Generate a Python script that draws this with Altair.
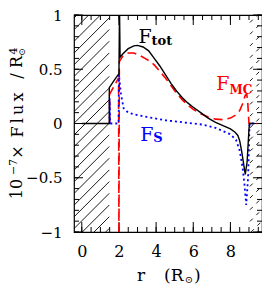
import altair as alt
import pandas as pd

# ---------------- data ----------------
tot_r = [0.0, 1.48, 1.48, 1.75, 2.0, 2.03, 2.06, 2.2, 2.5, 2.8, 3.0, 3.3, 3.6, 3.9, 4.2, 4.5, 4.8,
         5.1, 5.4, 5.7, 6.0, 6.4, 6.8, 7.2, 7.6, 8.0, 8.25, 8.4, 8.5, 8.6, 8.7, 8.8, 8.9, 9.0, 9.03, 9.3]
tot_v = [0.0, 0.0, 0.33, 0.40, 0.46, 1.05, 0.61, 0.64, 0.69, 0.715, 0.72, 0.705, 0.67, 0.60, 0.53, 0.45, 0.37,
         0.30, 0.24, 0.19, 0.15, 0.10, 0.05, 0.01, -0.02, -0.05, -0.08, -0.11, -0.16, -0.25, -0.36, -0.47, -0.35, -0.05, 0.0, 0.0]

mc_r = [1.5, 1.5, 1.98, 2.0, 2.02, 2.2, 2.5, 2.8, 3.1, 3.4, 3.7, 3.9, 4.2, 4.5, 4.8, 5.1, 5.4, 5.7,
        6.0, 6.4, 6.8, 7.2, 7.6, 8.0, 8.3, 8.5, 8.65, 8.8, 8.88, 8.93, 8.98, 9.0, 9.45]
mc_v = [0.0, 0.27, 0.42, -1.1, 0.57, 0.62, 0.65, 0.65, 0.63, 0.60, 0.57, 0.54, 0.48, 0.42, 0.35, 0.28, 0.22, 0.17,
        0.13, 0.09, 0.06, 0.04, 0.035, 0.05, 0.08, 0.12, 0.18, 0.26, 0.27, 0.2, 0.05, 0.0, 0.0]

s_r = [1.5, 1.5, 1.53, 1.98, 2.0, 2.1, 2.25, 2.5, 2.8, 3.5, 4.5, 5.5, 6.5, 7.2, 7.6, 8.0, 8.3, 8.5,
       8.65, 8.75, 8.85, 8.95, 9.0, 9.03, 9.3]
s_v = [0.0, 0.23, 0.0, 0.0, 0.45, 0.28, 0.14, 0.10, 0.085, 0.06, 0.03, 0.01, -0.01, -0.04, -0.07, -0.10, -0.15, -0.25,
       -0.40, -0.55, -0.75, -0.5, -0.2, 0.0, 0.0]

x_major = [0, 2, 4, 6, 8]
x_minor = [0.5 * i for i in range(20)]
y_major = [-1, -0.5, 0, 0.5, 1]
y_minor = [round(-1 + 0.1 * i, 1) for i in range(21)]

left_zone = [-0.42, 1.48]
right_zone = [9.05, 9.7]

XD = [-0.42, 9.7]
YD = [-1.0, 1.0]
W, H = 188, 217
FONT = "DejaVu Serif"

xs = alt.Scale(domain=XD, nice=False, zero=False)
ys = alt.Scale(domain=YD, nice=False, zero=False)
xaxis = alt.Axis(values=x_major, format="d", title=None, ticks=False, tickSize=0, domain=False, grid=False,
                 labelFont=FONT, labelFontSize=16, labelPadding=11, labelColor="black")
yaxis = alt.Axis(values=y_major, format="~g", title=None, ticks=False, tickSize=0, domain=False, grid=False,
                 labelFont=FONT, labelFontSize=15, labelPadding=12, labelColor="black")


def X(f):
    return alt.X(f, type="quantitative", scale=xs, axis=xaxis)


def Y(f):
    return alt.Y(f, type="quantitative", scale=ys, axis=yaxis)


def series(r, v):
    return pd.DataFrame({"r": r, "v": v, "i": list(range(len(r)))})


def px2r(px):
    return XD[0] + px / W * (XD[1] - XD[0])


def py2v(py):
    return YD[1] - py / H * (YD[1] - YD[0])


def hatch(zone, spacing=11.7, phase=3.0):
    p0 = (zone[0] - XD[0]) / (XD[1] - XD[0]) * W
    p1 = (zone[1] - XD[0]) / (XD[1] - XD[0]) * W
    rows = []
    c = phase
    while c < W + H + spacing:
        xa = max(p0, c - H)
        xb = min(p1, c)
        if xb > xa:
            rows.append({"r1": px2r(xa), "v1": py2v(c - xa), "r2": px2r(xb), "v2": py2v(c - xb)})
        c += spacing
    return pd.DataFrame(rows)


layers = []

# hatching
layers.append(alt.Chart(hatch(left_zone)).mark_rule(color="black", strokeWidth=0.9, clip=True).encode(
    x=X("r1"), y=Y("v1"), x2="r2", y2="v2"))
layers.append(alt.Chart(hatch(right_zone, phase=8.0)).mark_rule(color="black", strokeWidth=0.9, clip=True,
                                                                 strokeDash=[4, 5]).encode(
    x=X("r1"), y=Y("v1"), x2="r2", y2="v2"))


# ticks (inward, all four sides)
def xticks(vals, length):
    df = pd.DataFrame({"t": vals})
    b = alt.Chart(df).mark_rule(color="black", strokeWidth=1).encode(
        x=X("t"), y=alt.value(H), y2=alt.value(H - length))
    t = alt.Chart(df).mark_rule(color="black", strokeWidth=1).encode(
        x=X("t"), y=alt.value(0), y2=alt.value(length))
    return [b, t]


def yticks(vals, length):
    df = pd.DataFrame({"t": vals})
    l = alt.Chart(df).mark_rule(color="black", strokeWidth=1).encode(
        y=Y("t"), x=alt.value(0), x2=alt.value(length))
    r = alt.Chart(df).mark_rule(color="black", strokeWidth=1).encode(
        y=Y("t"), x=alt.value(W), x2=alt.value(W - length))
    return [l, r]


layers += xticks(x_minor, 5)
layers += xticks(x_major, 10)
layers += yticks(y_minor, 5)
layers += yticks(y_major, 9)

# curves
layers.append(alt.Chart(series(mc_r, mc_v)).mark_line(color="#ff0000", strokeWidth=1.6, strokeDash=[9, 5],
                                                      clip=True).encode(x=X("r"), y=Y("v"), order="i:Q"))
layers.append(alt.Chart(series(s_r, s_v)).mark_line(color="#0000ff", strokeWidth=1.8, strokeDash=[2, 3],
                                                    clip=True).encode(x=X("r"), y=Y("v"), order="i:Q"))
layers.append(alt.Chart(series(tot_r, tot_v)).mark_line(color="black", strokeWidth=1.4,
                                                        clip=True).encode(x=X("r"), y=Y("v"), order="i:Q"))


# in-plot labels (data positions)
def label(txt, r, v, color, size, weight="normal"):
    return alt.Chart(pd.DataFrame({"r": [r], "v": [v], "t": [txt]})).mark_text(
        align="left", baseline="alphabetic", font=FONT, fontSize=size, color=color, fontWeight=weight
    ).encode(x=X("r"), y=Y("v"), text="t:N")


layers += [label("F", 3.05, 0.74, "black", 19), label("tot", 3.75, 0.725, "black", 13, "bold"),
           label("F", 7.24, 0.31, "#ff0000", 19), label("MC", 7.95, 0.27, "#ff0000", 12, "bold"),
           label("F", 3.14, -0.16, "#0000ff", 19), label("S", 3.85, -0.175, "#0000ff", 13, "bold")]


# axis titles built from pieces (page coords -> plot coords)
OX, OY = 74, 15


def ptxt(txt, px, py, size, angle=0, align="center", baseline="middle"):
    return alt.Chart(pd.DataFrame({"t": [txt]})).mark_text(
        font=FONT, fontSize=size, color="black", angle=angle, align=align, baseline=baseline
    ).encode(x=alt.value(px - OX), y=alt.value(py - OY), text="t:N")


layers += [
    ptxt("r", 141, 281, 17, baseline="alphabetic"),
    ptxt("(R", 164, 281, 17, align="left", baseline="alphabetic"),
    ptxt("⊙", 189, 280, 10),
    ptxt(")", 194, 281, 17, align="left", baseline="alphabetic"),
    ptxt("10", 17, 189, 16, angle=270),
    ptxt("−7", 14, 167, 11, angle=270),
    ptxt("×", 18, 152, 16, angle=270),
    ptxt("F\u2009l\u2009u\u2009x", 18, 115, 16, angle=270),
    ptxt("/", 17, 76, 16, angle=270),
    ptxt("R", 17, 62, 16, angle=270),
    ptxt("4", 14, 51, 11, angle=270),
    ptxt("⊙", 22, 52, 9, angle=270),
]

chart = alt.layer(*layers).properties(
    width=W, height=H,
    autosize=alt.AutoSizeParams(type="none"),
    padding={"left": 66, "top": 7, "right": 0, "bottom": 55},
).configure_view(stroke="black", strokeWidth=1.2)

chart.save("out.html", embed_options={"renderer": "svg", "actions": False})
